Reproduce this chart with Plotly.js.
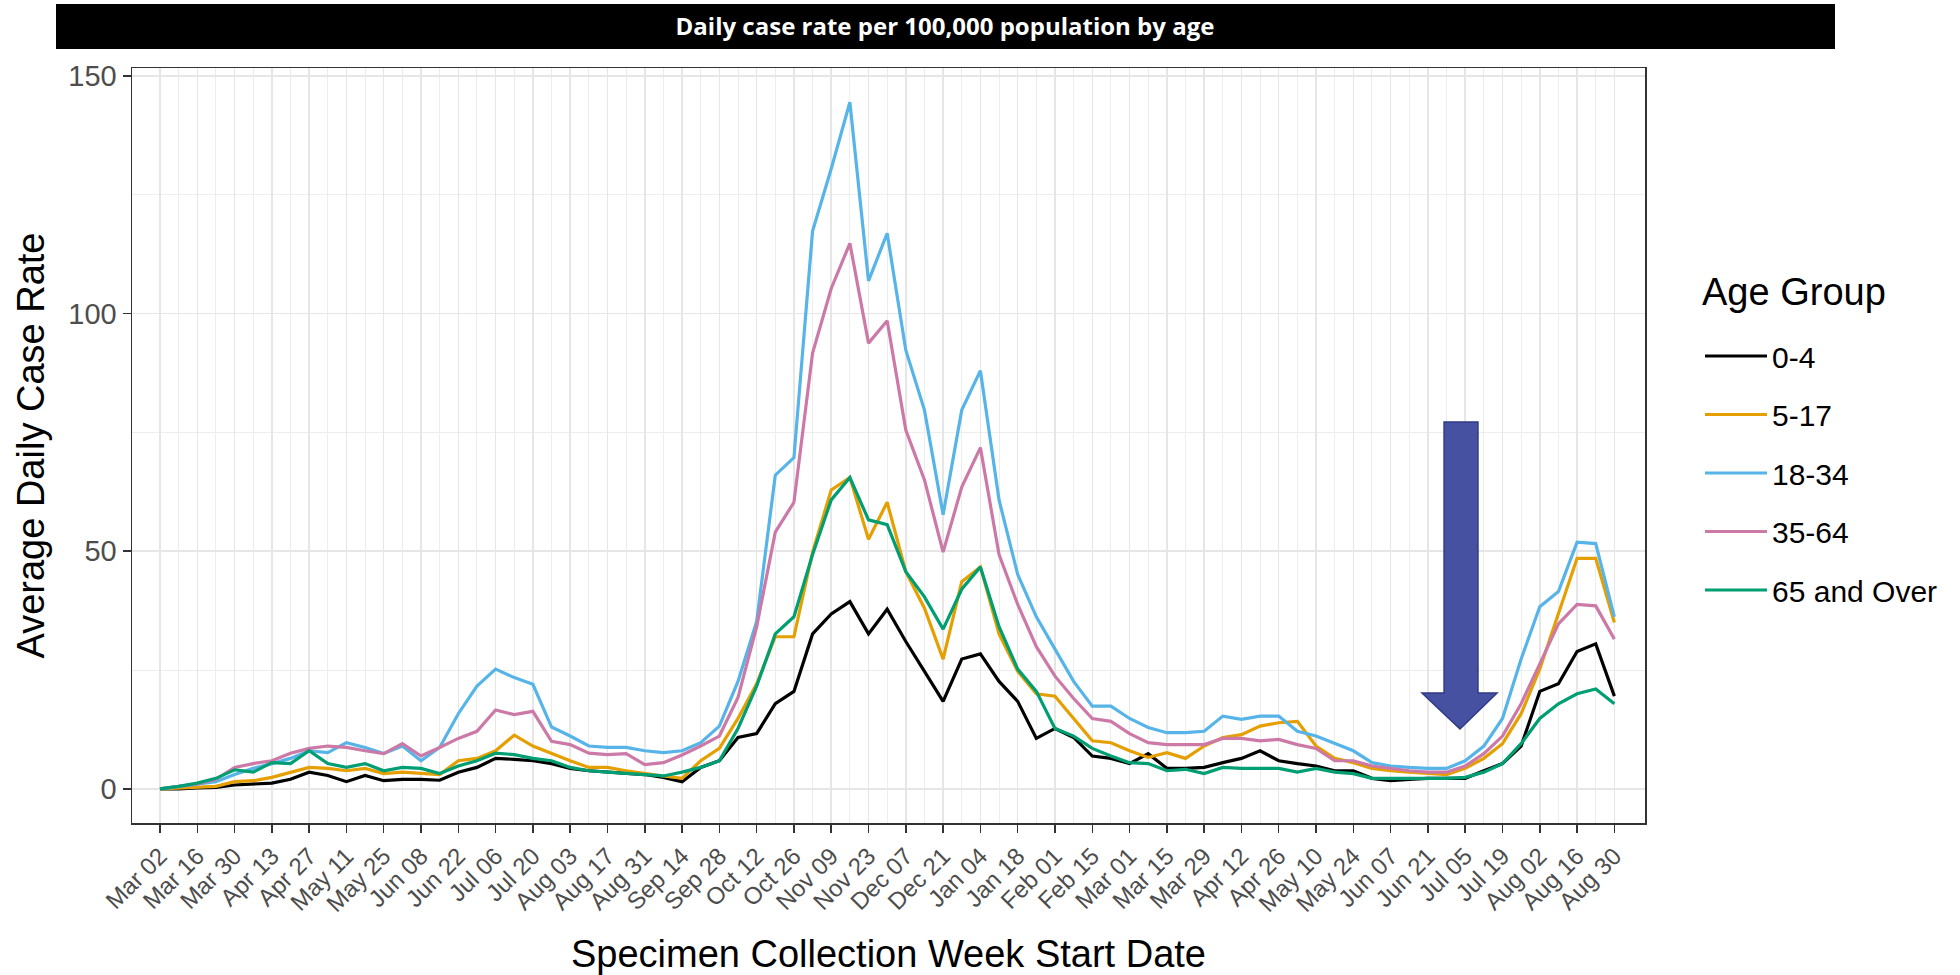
<!DOCTYPE html>
<html><head><meta charset="utf-8">
<script src="https://cdn.plot.ly/plotly-3.0.1.min.js"></script>
<style>html,body{margin:0;padding:0;background:#fff}#chart{width:1960px;height:975px}</style>
</head><body><div id="chart"></div>
<script>
// Week start dates (specimen collection)
const weeks = [
 "2020-03-02","2020-03-09","2020-03-16","2020-03-23","2020-03-30","2020-04-06","2020-04-13","2020-04-20","2020-04-27",
 "2020-05-04","2020-05-11","2020-05-18","2020-05-25","2020-06-01","2020-06-08","2020-06-15","2020-06-22","2020-06-29",
 "2020-07-06","2020-07-13","2020-07-20","2020-07-27","2020-08-03","2020-08-10","2020-08-17","2020-08-24","2020-08-31",
 "2020-09-07","2020-09-14","2020-09-21","2020-09-28","2020-10-05","2020-10-12","2020-10-19","2020-10-26","2020-11-02",
 "2020-11-09","2020-11-16","2020-11-23","2020-11-30","2020-12-07","2020-12-14","2020-12-21","2020-12-28","2021-01-04",
 "2021-01-11","2021-01-18","2021-01-25","2021-02-01","2021-02-08","2021-02-15","2021-02-22","2021-03-01","2021-03-08",
 "2021-03-15","2021-03-22","2021-03-29","2021-04-05","2021-04-12","2021-04-19","2021-04-26","2021-05-03","2021-05-10",
 "2021-05-17","2021-05-24","2021-05-31","2021-06-07","2021-06-14","2021-06-21","2021-06-28","2021-07-05","2021-07-12",
 "2021-07-19","2021-07-26","2021-08-02","2021-08-09","2021-08-16","2021-08-23","2021-08-30"
];

const tickLabels = ["Mar 02","Mar 16","Mar 30","Apr 13","Apr 27","May 11","May 25","Jun 08","Jun 22","Jul 06",
 "Jul 20","Aug 03","Aug 17","Aug 31","Sep 14","Sep 28","Oct 12","Oct 26","Nov 09","Nov 23",
 "Dec 07","Dec 21","Jan 04","Jan 18","Feb 01","Feb 15","Mar 01","Mar 15","Mar 29","Apr 12",
 "Apr 26","May 10","May 24","Jun 07","Jun 21","Jul 05","Jul 19","Aug 02","Aug 16","Aug 30"];

const yTickVals = [0, 50, 100, 150];
const yTickLabels = ["0", "50", "100", "150"];

const groupNames = ["0-4","5-17","18-34","35-64","65 and Over"];
const groupColors = ["#000000","#E69F00","#56B4E9","#CC79A7","#009E73"];

const age0_4 = [0,0,0.2,0.3,0.8,1.0,1.2,2.0,3.5,2.8,1.5,2.8,1.7,2.0,2.0,1.8,3.5,4.5,6.4,6.2,5.9,
 5.3,4.3,3.8,3.5,3.2,3.0,2.4,1.5,4.5,5.9,
 10.8,11.6,17.9,20.5,32.6,36.8,39.4,32.6,37.8,31,
 24.7,18.4,27.3,28.4,22.6,18.4,10.6,12.7,10.8,6.9,
 6.4,5.3,7.4,4.3,4.3,4.5,5.5,6.4,8.0,5.9,
 5.3,4.8,3.8,3.8,2.2,1.7,2.0,2.2,2.2,2.2,
 3.8,5.3,9.0,20.5,22.1,28.9,30.5,19.5];

const age5_17 = [0,0.2,0.3,0.5,1.5,1.7,2.4,3.5,4.5,4.3,3.8,4.3,3.2,3.5,3.2,3.0,5.9,6.4,8.0,11.3,9.0,
 7.4,5.9,4.5,4.5,3.8,3.2,2.7,2.2,5.9,8.5,
 14.8,22.1,32,32,49.8,62.9,65.5,52.5,60.3,45.7,
 38,27.3,43.6,46.7,32.6,24.7,20.0,19.5,14.8,10.1,
 9.7,8.0,6.6,7.6,6.4,9.0,10.8,11.4,13.2,13.9,
 14.2,9.0,6.4,5.5,4.3,3.8,3.5,3.2,3.0,4.3,
 6.4,9.5,15.8,25.2,36.8,48.5,48.5,35];

const age18_34 = [0,0.5,1.0,1.5,3.0,4.3,5.3,6.4,8.0,7.6,9.7,8.7,7.4,9.0,5.9,8.7,15.8,21.6,25.2,23.4,22,
 13,11.1,9.0,8.7,8.7,8.0,7.6,8.0,9.7,13.2,
 22.6,35.2,66,69.7,117.4,130.5,144.5,106.9,116.9,92.3,
 79.7,57.7,79.7,88,60.8,45.1,36.2,29.4,22.6,17.4,
 17.4,14.8,12.9,11.8,11.8,12.1,15.3,14.6,15.3,15.3,
 12.1,11.1,9.5,8.0,5.5,4.8,4.5,4.3,4.3,5.9,
 9.0,14.8,27.3,38.3,41.5,51.9,51.6,36.2];

const age35_64 = [0,0.5,1.0,2.0,4.5,5.3,5.9,7.5,8.5,9.0,8.7,8.0,7.4,9.5,6.9,8.7,10.6,12.1,16.6,15.6,16.3,
 10,9.3,7.5,7.2,7.4,5.1,5.5,7.1,9.0,11.1,
 19.2,34.1,54,60.3,91.7,105.3,114.8,93.8,98.5,75.5,
 65,49.8,63.5,71.8,49.3,38.8,29.9,23.7,19.0,14.8,
 14.2,11.6,9.7,9.3,9.3,9.3,10.6,10.6,10.1,10.4,
 9.3,8.5,5.9,5.9,4.8,4.3,3.8,3.5,3.5,4.8,
 7.4,11.1,17.9,26.3,34.7,38.8,38.5,31.5];

const age65plus = [0,0.5,1.2,2.2,4.0,3.5,5.5,5.3,8.0,5.3,4.5,5.3,3.8,4.5,4.3,3.2,4.8,5.9,7.5,7.2,6.4,
 5.9,4.5,3.8,3.5,3.2,3.0,2.7,3.5,4.5,5.9,
 12.7,21.6,32.6,36.2,49.3,60.8,65.5,56.6,55.6,45.7,
 40.4,33.6,42,46.7,34.1,25.2,20.5,12.7,11.1,8.5,
 6.9,5.5,5.3,3.8,4.1,3.2,4.5,4.3,4.3,4.3,
 3.5,4.3,3.5,3.2,2.2,2.2,2.2,2.2,2.2,2.4,
 3.5,5.3,9.5,14.8,17.9,20.0,21.0,17.9];

const seriesValues = [age0_4, age5_17, age18_34, age35_64, age65plus];

const traces = groupNames.map((name, i) => ({
  type: "scatter", mode: "lines", name: name, x: weeks, y: seriesValues[i],
  line: {color: groupColors[i], width: 3.2}, legendgroup: "g" + i
}));

const tickVals = weeks.filter((d, i) => i % 2 === 0);
const minorVals = weeks.filter((d, i) => i % 2 === 1);

// plot area pixels: x 132..1645, y 68..823
const L = 132, R = 1645, T = 68, B = 823;
const W = R - L, H = B - T;
const px = v => (v - L) / W;
const py = v => (B - v) / H;

const arrowPath = "M " + [
  [px(1444), py(422)], [px(1478), py(422)], [px(1478), py(693)], [px(1497), py(693)],
  [px(1460), py(729)], [px(1422), py(693)], [px(1444), py(693)]
].map(p => p[0].toFixed(4) + "," + p[1].toFixed(4)).join(" L ") + " Z";

const layout = {
  width: 1960, height: 975,
  paper_bgcolor: "#ffffff", plot_bgcolor: "#ffffff",
  margin: {l: L, r: 1960 - R, t: T, b: 975 - B},
  font: {family: "Liberation Sans, Arial, sans-serif", color: "#000"},
  title: {
    text: "<b>Daily case rate per 100,000 population by age</b>",
    font: {family: "Open Sans, sans-serif", size: 24, color: "#ffffff"},
    xref: "container", x: 945 / 1960, xanchor: "center",
    yref: "container", y: 1 - 27 / 975, yanchor: "middle"
  },
  showlegend: true,
  legend: {
    font: {size: 30, color: "#000"},
    x: px(1700), xanchor: "left", y: py(330), yanchor: "top",
    tracegroupgap: 16.5, traceorder: "grouped", itemwidth: 62,
    bgcolor: "rgba(0,0,0,0)"
  },
  annotations: [
    {text: "Age Group", xref: "paper", yref: "paper", x: px(1700), y: py(292),
     xanchor: "left", yanchor: "middle", showarrow: false,
     font: {size: 38, color: "#000"}}
  ],
  xaxis: {
    type: "date",
    range: ["2020-02-20 12:00", "2021-09-10 12:00"],
    tickmode: "array", tickvals: tickVals, ticktext: tickLabels,
    tickangle: -45, tickfont: {size: 24, color: "#4D4D4D"},
    ticks: "outside", ticklen: 8, tickwidth: 1.5, tickcolor: "#333333",
    showgrid: true, gridcolor: "#E6E6E6", gridwidth: 1.5,
    minor: {tickmode: "array", tickvals: minorVals, showgrid: true, gridcolor: "#EDEDED", gridwidth: 1, ticks: ""},
    showline: true, mirror: true, linecolor: "#333333", linewidth: 1.5,
    zeroline: false,
    title: {text: "Specimen Collection Week Start Date", font: {size: 38, color: "#000"}, standoff: 28}
  },
  yaxis: {
    range: [-7.2, 151.7],
    tickmode: "array", tickvals: yTickVals, ticktext: yTickLabels,
    tickfont: {size: 29, color: "#4D4D4D"},
    ticks: "outside", ticklen: 8, tickwidth: 1.5, tickcolor: "#333333",
    showgrid: true, gridcolor: "#E6E6E6", gridwidth: 1.5,
    minor: {tickmode: "array", tickvals: [25, 75, 125], showgrid: true, gridcolor: "#EDEDED", gridwidth: 1, ticks: ""},
    showline: true, mirror: true, linecolor: "#333333", linewidth: 1.5,
    zeroline: false,
    title: {text: "Average Daily Case Rate", font: {size: 38, color: "#000"}, standoff: 12}
  },
  shapes: [
    {type: "rect", xref: "paper", yref: "paper", x0: px(56), x1: px(1835), y0: py(49), y1: py(4),
     fillcolor: "#000000", line: {width: 0}, layer: "above"},
    {type: "path", xref: "paper", yref: "paper", path: arrowPath,
     fillcolor: "#4751A1", line: {color: "#2F3A85", width: 1.5}, layer: "above"}
  ]
};

Plotly.newPlot("chart", traces, layout, {displayModeBar: false, staticPlot: true});
</script>
</body></html>
